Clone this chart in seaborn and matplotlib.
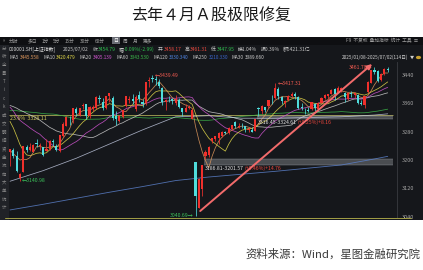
import numpy as np
import pandas as pd
import matplotlib
matplotlib.use('Agg')
import matplotlib.pyplot as plt
import seaborn as sns
from matplotlib.patches import Rectangle, Circle
from matplotlib.lines import Line2D

sns.set_theme(style='dark')
plt.rcParams['font.family'] = ['Noto Sans CJK SC', 'DejaVu Sans']
plt.rcParams['axes.unicode_minus'] = False

# ---------------- data (Shanghai Composite, daily, 2025/01/08 - 2025/07/02) ----------------
opens = [3222, 3228, 3211, 3148, 3166, 3236, 3228, 3223, 3249, 3240, 3236, 3225, 3232, 3254,
         3240, 3225, 3269, 3296, 3320, 3314, 3345, 3328, 3353, 3358, 3324, 3345, 3347, 3376, 3365, 3346, 3380, 3375,
         3323, 3309, 3321, 3352, 3370, 3373, 3345, 3384, 3365, 3360, 3423, 3431, 3428, 3421, 3402, 3363, 3370, 3372, 3362, 3370, 3347,
         3336, 3346, 3317,
         3193, 3064, 3118, 3210, 3213, 3255, 3258, 3261, 3268, 3279, 3275, 3288, 3307, 3292, 3297, 3295, 3286, 3285,
         3283, 3347, 3337, 3349, 3353, 3376, 3374, 3400, 3379, 3360, 3369, 3382, 3385, 3378, 3349, 3342, 3342, 3344, 3358,
         3343, 3362, 3375, 3382, 3387, 3401, 3389, 3397, 3388, 3372, 3389, 3384, 3384, 3362, 3354, 3391, 3418, 3455, 3450, 3425,
         3443, 3458.17]
highs = [3231, 3235, 3226, 3162, 3240, 3243, 3248, 3245, 3259, 3247, 3237, 3260, 3256, 3260,
         3244, 3270, 3306, 3323, 3325, 3347, 3350, 3348, 3361, 3358, 3352, 3354, 3380, 3384, 3375, 3381, 3390, 3380,
         3338, 3326, 3342, 3382, 3380, 3385, 3384, 3394, 3372, 3419, 3435, 3439.49, 3436, 3430, 3405, 3372, 3380, 3374, 3383, 3374, 3348,
         3357, 3356, 3347,
         3194, 3148, 3186.81, 3229, 3240, 3263, 3269, 3278, 3283, 3283, 3293, 3300, 3310, 3304, 3305, 3296, 3292, 3292,
         3316.45, 3351, 3355, 3351, 3370, 3384, 3417.31, 3406, 3381, 3370, 3383, 3391, 3391, 3382, 3360, 3347, 3349, 3363, 3360,
         3364, 3378, 3387, 3386, 3400, 3403, 3410, 3405, 3391, 3391, 3395, 3393, 3385, 3370, 3382, 3422, 3455, 3461.70, 3453, 3445,
         3460, 3461.31]
lows = [3182, 3206, 3165, 3140.98, 3165, 3222, 3226, 3222, 3237, 3228, 3210, 3225, 3228, 3240,
        3225, 3223, 3265, 3295, 3300, 3305, 3323, 3325, 3344, 3315, 3320, 3338, 3344, 3361, 3340, 3344, 3365, 3314,
        3298, 3306, 3318, 3349, 3361, 3358, 3338, 3364, 3351, 3356, 3407, 3420, 3413, 3404, 3354, 3342, 3364, 3359, 3355, 3347, 3323,
        3336, 3344, 3316,
        3040.69, 3064, 3099, 3201.57, 3208, 3247, 3253, 3245, 3265, 3273, 3273, 3285, 3290, 3290, 3290, 3280, 3280, 3278,
        3281, 3324.61, 3330, 3335, 3347, 3358, 3372, 3373, 3357, 3349, 3366, 3378, 3371, 3344, 3341, 3331, 3335, 3340, 3337,
        3343, 3360, 3372, 3373, 3385, 3369, 3388, 3391, 3364, 3370, 3378, 3375, 3358, 3354, 3346, 3390, 3417, 3443, 3420, 3423,
        3440, 3447.95]
closes = [3230, 3211, 3169, 3160, 3240, 3227, 3237, 3241, 3244, 3243, 3213, 3231, 3253, 3250,
          3229, 3270, 3303, 3322, 3318, 3346, 3332, 3346, 3355, 3324, 3351, 3350, 3379, 3373, 3346, 3380, 3388, 3320,
          3316, 3324, 3342, 3381, 3372, 3366, 3379, 3371, 3358, 3419, 3426, 3430, 3426, 3408, 3364, 3370, 3369, 3368, 3373, 3351, 3336,
          3348, 3350, 3342,
          3097, 3145, 3186, 3223, 3238, 3262, 3267, 3276, 3280, 3277, 3291, 3300, 3296, 3297, 3295, 3288, 3287, 3279,
          3316, 3343, 3353, 3342, 3369, 3374, 3404, 3380, 3367, 3367, 3381, 3387, 3380, 3348, 3346, 3340, 3339, 3363, 3347,
          3361, 3376, 3384, 3385, 3399, 3385, 3402, 3403, 3377, 3388, 3387, 3388, 3362, 3359, 3381, 3420, 3455, 3448, 3424, 3444,
          3457, 3454.79]
# closes before 2025/01/08, only used for the moving averages
pre_closes = [3489, 3258, 3301, 3217, 3284, 3202, 3202, 3169, 3261, 3268, 3285, 3302, 3280, 3300, 3322, 3286, 3266, 3280,
              3272, 3310, 3387, 3384, 3471, 3452, 3470, 3421, 3439, 3380, 3330, 3324, 3346, 3368, 3370, 3268, 3263, 3259,
              3310, 3295, 3326,
              3363, 3378, 3364, 3368, 3404, 3402, 3422, 3432, 3461, 3391, 3386, 3361, 3382, 3370, 3368, 3352, 3393, 3394,
              3399, 3400, 3407, 3352,
              3262, 3211, 3206, 3230]
# long moving averages
ma120_idx = [0, 10, 20, 30, 40, 50, 60, 70, 80, 90, 100, 110, 114]
ma120_val = [3140, 3170, 3205, 3245, 3285, 3322, 3325, 3318, 3318, 3320, 3322, 3327, 3330.34]
ma250_idx = [0, 10, 20, 30, 40, 50, 60, 70, 80, 90, 100, 110, 114]
ma250_val = [3059, 3075, 3092, 3109, 3125, 3142, 3152, 3160, 3168, 3177, 3186, 3203, 3210.33]

y_ticks = [3040, 3120, 3200, 3280, 3360, 3440]
fib_level = 3328.11
gaps = [(58.5, 3186.81, 3201.57), (74.5, 3316.45, 3324.61)]

# ---------------- figure ----------------
W, H = 423, 270
fig = plt.figure(figsize=(W / 100, H / 100), dpi=100, facecolor='white')
renderer = fig.canvas.get_renderer()

def fx(px):
    return px / W

def fy(py):
    return 1 - py / H

def ftxt(px, py, s, color='#a0a0a0', size=3.4, ha='left', va='center', **kw):
    return fig.text(fx(px), fy(py), s, color=color, fontsize=size, ha=ha, va=va, **kw)

def seq(px, py, items, size):
    x = px
    for s, col, gap in items:
        t = ftxt(x, py, s, color=col, size=size)
        x += t.get_window_extent(renderer).width + gap
    return x

BG = '#15171b'
fig.add_artist(Rectangle((0, fy(220)), 1, (220 - 37) / H, transform=fig.transFigure,
                         facecolor=BG, edgecolor='none', zorder=-10))
fig.add_artist(Rectangle((0, fy(45)), 1, 8 / H, transform=fig.transFigure,
                         facecolor='#0e0f12', edgecolor='none', zorder=-9))
fig.add_artist(Rectangle((0, fy(220)), 8.5 / W, (220 - 45) / H, transform=fig.transFigure,
                         facecolor='#202227', edgecolor='none', zorder=-8))

# title & source
fig.text(fx(211), fy(16), '去年４月Ａ股极限修复', fontsize=11.5, color='#1a1a1a', ha='center', va='center')
fig.text(fx(420), fy(254), '资料来源：Wind，星图金融研究院', fontsize=8.2, color='#3a3a3a', ha='right', va='center')

# header row 1: tabs
tabs = [('»', 3), ('分时', 9), ('多日', 28), ('1分', 42), ('5分', 53), ('15分', 65), ('30分', 80),
        ('60分', 95), ('日', 113), ('周', 123), ('月', 133), ('更多', 143)]
for s, px in tabs:
    if s == '日':
        fig.add_artist(Rectangle((fx(111.5), fy(44.5)), 8 / W, 7 / H, transform=fig.transFigure,
                                 facecolor='#6a6d75', edgecolor='none', zorder=-5))
        ftxt(px, 41, s, color='#ffffff', size=3.4)
    else:
        ftxt(px, 41, s, size=3.4)
ftxt(418, 41, 'F9  不复权  叠加指标  统计  工具  ≡', size=3.4, ha='right')

# header row 2
G, R, T = '#2fc24f', '#ef4a3f', '#c8c8c8'
seq(9, 49.5, [('000001.SH[上证指数]', '#dcdcdc', 7), ('2025/07/02', T, 3.5),
              ('收', T, 0.3), ('3454.79', G, 3.5), ('幅', T, 0.3), ('-0.09%(-2.99)', G, 3.5),
              ('开', T, 0.3), ('3458.17', R, 3.5), ('高', T, 0.3), ('3461.31', R, 3.5),
              ('低', T, 0.3), ('3447.95', G, 3.5), ('换1.04%', T, 3.5), ('振0.39%', T, 3.5),
              ('额5421.31亿', T, 0)], size=3.5)

# header row 3: moving average legend
ma_cols = {'MA5': '#e39a5e', 'MA10': '#e6dc4a', 'MA20': '#d255d2', 'MA60': '#3cb84a',
           'MA120': '#4f86e6', 'MA250': '#3a66cc', 'MA30': '#cfcfcf'}
full = pd.Series(pre_closes + closes, dtype=float)
n_pre = len(pre_closes)
ma = {}
for name, w in [('MA5', 5), ('MA10', 10), ('MA20', 20), ('MA30', 30), ('MA60', 60)]:
    ma[name] = full.rolling(w).mean().iloc[n_pre:].to_numpy()
last = {'MA5': ma['MA5'][-1], 'MA10': ma['MA10'][-1], 'MA20': ma['MA20'][-1], 'MA60': ma['MA60'][-1],
        'MA120': ma120_val[-1], 'MA250': ma250_val[-1], 'MA30': ma['MA30'][-1]}
items = []
for name in ['MA5', 'MA10', 'MA20', 'MA60', 'MA120', 'MA250', 'MA30']:
    items.append((name, T, 1.3))
    items.append((f'{last[name]:.3f}', ma_cols[name], 3.8))
seq(9, 57.5, items, size=3.4)
ftxt(408, 57.5, '2025/01/08-2025/07/02(114日)', color='#d0d0d0', size=3.4, ha='right')
ftxt(409.5, 57.5, '▼', color='#d0d0d0', size=3.0)
fig.add_artist(Circle((fx(418.5), fy(57.5)), 2.6 / W, transform=fig.transFigure,
                      facecolor='#c8a030', edgecolor='none'))

# sidebar vertical labels
side = list('分析全景') + list('Tick') + list('成交明细') + list('资金流向') + list('大单统计')
for i, ch in enumerate(side):
    ftxt(4.2, 48 + i * 8.4, ch, color='#8e8e8e', size=3.2, ha='center')

# ---------------- price axes ----------------
ax = fig.add_axes([fx(9), fy(218), 388 / W, 156 / H])
ax.set_facecolor(BG)
idx = np.arange(len(closes))
o = np.array(opens, float); c = np.array(closes, float)
hi = np.array(highs, float); lo = np.array(lows, float)
up = c >= o
RED, CYAN = '#f0302c', '#4fdcdc'
cols = np.where(up, RED, CYAN)
ax.vlines(idx, lo, hi, colors=cols, linewidth=0.55, zorder=3)
body = np.maximum(np.abs(c - o), 1.6)
ax.bar(idx, body, bottom=np.minimum(o, c), width=0.64, color=cols, linewidth=0, zorder=4)

# moving averages
for name in ['MA60', 'MA30', 'MA20', 'MA10', 'MA5']:
    sns.lineplot(x=idx, y=ma[name], ax=ax, color=ma_cols[name], linewidth=0.55, alpha=0.85, zorder=2)
sns.lineplot(x=ma120_idx, y=ma120_val, ax=ax, color='#c8d0e8', linewidth=0.55, alpha=0.8, zorder=2)
sns.lineplot(x=ma250_idx, y=ma250_val, ax=ax, color='#5a7fc8', linewidth=0.6, alpha=0.85, zorder=2)

# fibonacci line
x_end = 115.5
ax.hlines(fib_level, -0.3, x_end, color='#b9b45a', linewidth=0.55, zorder=1)
ax.text(0.0, fib_level - 3.5, '23.6%  3328.11', color='#d8d060', fontsize=3.8, va='top', ha='left', zorder=6)

# gap bands
for start, g_lo, g_hi in gaps:
    ax.fill_between([start, x_end], g_lo, g_hi, color='#8c8f94', alpha=0.45, linewidth=0, zorder=1)
    ax.hlines([g_lo, g_hi], start, x_end, color='#a5a9ae', linewidth=0.35, alpha=0.7, zorder=1)
    d = g_hi - g_lo
    ax.text(start + 0.3, g_lo - 3, f'{g_lo:.2f}-{g_hi:.2f}', color='#e6e6e6', fontsize=3.7,
            va='top', ha='left', zorder=6)
    ax.text(start + 12.3, g_lo - 3, f'(+{d / g_lo * 100:.2f}%)+{d:.2f}', color='#e8453c', fontsize=3.7,
            va='top', ha='left', zorder=6)

# extreme labels
i_hi1 = int(np.argmax(hi[:50]))
ax.text(i_hi1 + 0.7, hi[i_hi1], f'←{hi[i_hi1]:.2f}', color='#ef5a50', fontsize=3.7, va='center', ha='left', zorder=6)
i_hi2 = 60 + int(np.argmax(hi[60:100]))
ax.text(i_hi2 + 0.7, hi[i_hi2], f'←{hi[i_hi2]:.2f}', color='#ef5a50', fontsize=3.7, va='center', ha='left', zorder=6)
i_hi3 = 100 + int(np.argmax(hi[100:]))
ax.text(i_hi3 - 0.7, hi[i_hi3], f'{hi[i_hi3]:.2f}→', color='#ef5a50', fontsize=3.7, va='center', ha='right', zorder=6)
i_lo1 = int(np.argmin(lo[:30]))
ax.text(i_lo1 + 0.7, lo[i_lo1], f'←{lo[i_lo1]:.2f}', color='#3cc25a', fontsize=3.7, va='center', ha='left', zorder=6)
i_lo2 = int(np.argmin(lo))
ax.text(i_lo2 - 0.7, lo[i_lo2] + 2, f'{lo[i_lo2]:.2f}→', color='#3cc25a', fontsize=3.7, va='center', ha='right', zorder=6)

# trend arrow
ax.annotate('', xy=(109.3, 3471), xytext=(57.4, 3056),
            arrowprops=dict(arrowstyle='-|>', color='#f26b6b', lw=1.4, mutation_scale=7,
                            shrinkA=0, shrinkB=0), zorder=7)

ax.set_xlim(-0.3, 116.8)
ax.set_ylim(3036.3, 3476.7)
ax.set_xticks([])
ax.yaxis.tick_right()
ax.set_yticks(y_ticks)
ax.set_yticklabels([str(v) for v in y_ticks], color='#a4a4a4', fontsize=4)
ax.tick_params(axis='y', length=0, pad=3.5)
ax.grid(False)
for s in ['top', 'left', 'bottom']:
    ax.spines[s].set_visible(False)
ax.spines['right'].set_color('#3a3c41')
ax.spines['right'].set_linewidth(0.6)
ax.set_xlabel(''); ax.set_ylabel('')

fig.add_artist(Line2D([fx(5), fx(411)], [fy(218.3), fy(218.3)], transform=fig.transFigure,
                      color='#a3a046', linewidth=0.7))

fig.savefig('out.png', dpi=100, facecolor='white')
